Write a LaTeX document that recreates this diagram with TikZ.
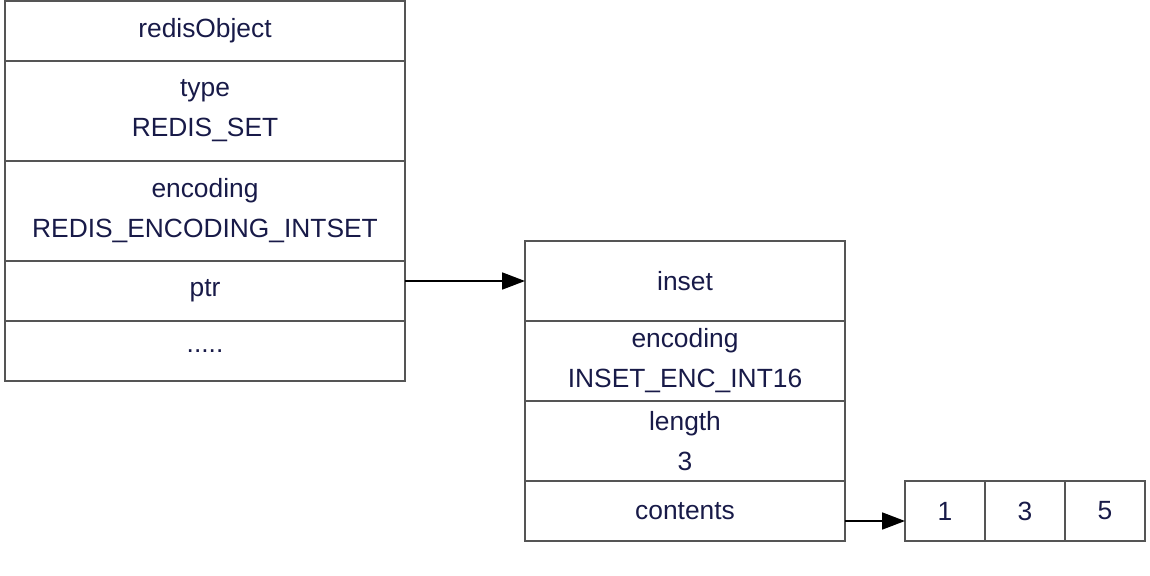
\documentclass[tikz,border=0pt]{standalone}
\usepackage{fontspec}
\setmainfont{Liberation Sans}
\usetikzlibrary{positioning}
\usetikzlibrary{arrows.meta}
\definecolor{fieldtext}{RGB}{24,26,72}
\definecolor{fieldline}{RGB}{85,85,85}
\tikzset{
  field/.style={draw=fieldline, line width=1.1pt, outer sep=0pt, inner sep=0pt,
    align=center, text=fieldtext, font=\fontsize{15}{22.7}\selectfont},
  objrow/.style={field, minimum width=8cm},
  setrow/.style={field, minimum width=6.4cm},
  cell/.style={field, minimum width=1.6cm, minimum height=1.2cm},
  pointer/.style={->, line width=1.1pt, black}
}
\begin{document}
\begin{tikzpicture}[node distance=0pt, >={Triangle[length=13pt,width=9.6pt]}]
  \useasboundingbox (0,0) rectangle (23,-11.52);
  % redisObject
  \node[objrow, minimum height=1.2cm, anchor=north west] (obj) at (0.1,-0.02) {redisObject};
  \node[objrow, minimum height=2cm, below=of obj] (type) {type\\REDIS\_SET};
  \node[objrow, minimum height=2cm, below=of type] (enc) {encoding\\REDIS\_ENCODING\_INTSET};
  \node[objrow, minimum height=1.2cm, below=of enc] (ptr) {ptr};
  \node[objrow, minimum height=1.2cm, below=of ptr] (more) {.....};
  % inset
  \node[setrow, minimum height=1.6cm, anchor=north west] (inset) at (10.5,-4.82) {inset};
  \node[setrow, minimum height=1.6cm, below=of inset] (insetenc) {encoding\\INSET\_ENC\_INT16};
  \node[setrow, minimum height=1.6cm, below=of insetenc] (len) {length\\3};
  \node[setrow, minimum height=1.2cm, below=of len] (contents) {contents};
  % contents array
  \node[cell, anchor=north west] (c1) at (18.1,-9.62) {1};
  \node[cell, right=of c1] (c3) {3};
  \node[cell, right=of c3] (c5) {5};
  \draw[pointer] (ptr.east |- inset.west) -- (inset.west);
  \draw[pointer] ([yshift=-0.2cm]contents.east) -- ([yshift=-0.2cm]c1.west);
\end{tikzpicture}
\end{document}
